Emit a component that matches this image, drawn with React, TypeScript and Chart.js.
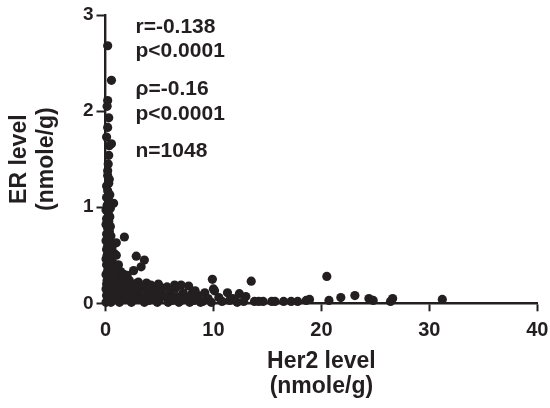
import React, { useEffect, useRef } from "react";
import { Chart, registerables } from "chart.js";

Chart.register(...registerables);

// Her2 level (nmole/g) for each sample point
const her2Level = [
  0.2, 0.55, 0.2, 0.15, 0.3, 0.2, 0.1, 0.35, 0.55, 0.3, 0.25, 0.2, 0.2, 0.35, 0.3, 0.1, 0.2, 0.4, 0.1, 0.3,
  0.75, 0.15, 0.45, 0.05, 0.25, 0.4, 0.1, 0.3, 0.05, 0.45, 0.2, 0.35, 0.1, 0.5, 0.25, 1.75, 0.05, 0.4, 1.0, 0.2,
  0.6, 0.1, 0.35, 0.8, 0.15, 0.5, 1.0, 2.85, 3.6, 3.3, 2.6, 0.05, 0.3, 0.7, 1.2, 0.1, 0.45, 0.9, 0.2, 1.4,
  0.6, 1.7, 0.05, 0.35, 1.1, 1.75, 0.8, 0.15, 2.2, 0.5, 1.4, 3.05, 2.9, 3.8, 0.1, 0.9, 1.9, 4.2, 2.5, 0.4,
  1.3, 3.3, 3.8, 5.2, 5.7, 6.5, 7.0, 7.7, 6.4, 0.05, 0.7, 1.8, 2.7, 4.5, 0.3, 1.1, 2.2, 3.0, 4.0, 5.0,
  6.0, 7.2, 8.6, 9.2, 10.0, 9.9, 10.1, 11.3, 12.4, 13.0, 13.5, 0.1, 0.6, 1.5, 2.5, 3.5, 4.6, 5.5, 6.6, 7.5,
  8.0, 9.5, 10.5, 11.8, 0.2, 1.0, 2.0, 3.0, 4.0, 5.0, 6.2, 7.0, 8.2, 9.0, 10.8, 11.5, 12.8, 0.05, 0.5, 1.3,
  2.4, 3.6, 4.8, 5.8, 6.8, 7.8, 8.8, 9.8, 12.2, 13.8, 14.6, 15.4, 15.7, 16.5, 17.8, 18.6, 18.9, 20.5, 20.7, 21.8,
  23.1, 24.4, 24.8, 26.4, 26.6, 31.2, 4.9, 6.1, 8.3, 2.0, 1.6, 0.7, 14.2, 17.2,
];

// ER level (nmole/g) for the same samples
const erLevel = [
  2.68, 2.32, 2.11, 2.05, 1.93, 1.83, 1.73, 1.64, 1.66, 1.54, 1.45, 1.38, 1.33, 1.29, 1.25, 1.22, 1.17, 1.13, 1.1, 1.07,
  1.04, 1.02, 0.99, 0.97, 0.94, 0.9, 0.88, 0.85, 0.82, 0.8, 0.78, 0.75, 0.72, 0.7, 0.68, 0.69, 0.65, 0.63, 0.63, 0.6,
  0.58, 0.56, 0.54, 0.52, 0.5, 0.48, 0.5, 0.49, 0.45, 0.38, 0.34, 0.46, 0.44, 0.42, 0.4, 0.4, 0.37, 0.35, 0.34, 0.33,
  0.31, 0.3, 0.3, 0.28, 0.27, 0.27, 0.25, 0.24, 0.24, 0.22, 0.22, 0.22, 0.21, 0.21, 0.2, 0.2, 0.19, 0.19, 0.18, 0.17,
  0.17, 0.17, 0.16, 0.16, 0.17, 0.16, 0.19, 0.18, 0.19, 0.15, 0.15, 0.14, 0.14, 0.14, 0.12, 0.12, 0.11, 0.12, 0.11, 0.12,
  0.1, 0.11, 0.08, 0.11, 0.15, 0.25, 0.13, 0.11, 0.1, 0.07, 0.23, 0.08, 0.08, 0.08, 0.08, 0.08, 0.07, 0.08, 0.07, 0.06,
  0.1, 0.05, 0.06, 0.05, 0.04, 0.04, 0.04, 0.04, 0.03, 0.04, 0.03, 0.03, 0.03, 0.02, 0.02, 0.03, 0.02, 0.01, 0.01, 0.01,
  0.01, 0.01, 0.01, 0.01, 0.01, 0.01, 0.01, 0.01, 0.01, 0.02, 0.02, 0.02, 0.02, 0.02, 0.02, 0.03, 0.04, 0.28, 0.03, 0.06,
  0.08, 0.05, 0.03, 0.02, 0.05, 0.04, 0.2, 0.14, 0.13, 0.29, 0.12, 0.28, 0.02, 0.02,
];

const xTitle = ["Her2 level", "(nmole/g)"];
const yTitle = ["ER level", "(nmole/g)"];
const statLines = ["r=-0.138", "p<0.0001", "\u03c1=-0.16", "p<0.0001", "n=1048"];

const INK = "#231f20";
const FAMILY = "'Liberation Sans', Arial, Helvetica, sans-serif";

export default function App() {
  const canvasRef = useRef<HTMLCanvasElement | null>(null);

  useEffect(() => {
    document.body.style.margin = "0";
    const canvas = canvasRef.current;
    if (!canvas) return;

    const points = her2Level.map((x, i) => ({ x, y: erLevel[i] }));

    const statsPlugin = {
      id: "stats",
      afterDraw(chart: any) {
        const { ctx, chartArea } = chart;
        const offsets = [18, 42, 80, 105, 142];
        ctx.save();
        ctx.font = `bold 21px ${FAMILY}`;
        ctx.fillStyle = INK;
        ctx.textAlign = "left";
        ctx.textBaseline = "alphabetic";
        statLines.forEach((t, i) => {
          ctx.fillText(t, chartArea.left + 30, chartArea.top + offsets[i]);
        });
        ctx.restore();
      },
    };

    const chart = new Chart(canvas, {
      type: "scatter",
      data: {
        datasets: [
          {
            data: points,
            backgroundColor: INK,
            borderColor: INK,
            borderWidth: 0,
            pointRadius: 4.6,
            pointHoverRadius: 4.6,
            clip: false,
          } as any,
        ],
      },
      options: {
        responsive: false,
        animation: false,
        devicePixelRatio: 1,
        layout: { padding: { top: 15, right: 12.7, left: 0, bottom: 0 } },
        plugins: {
          legend: { display: false },
          tooltip: { enabled: false },
        },
        scales: {
          x: {
            type: "linear",
            min: 0,
            max: 40,
            ticks: {
              stepSize: 10,
              color: INK,
              padding: 7,
              font: { family: FAMILY, size: 20, weight: "bold" },
            },
            grid: {
              drawOnChartArea: false,
              drawTicks: true,
              tickLength: 8,
              tickWidth: 2,
              tickColor: INK,
              color: INK,
            },
            border: { display: true, color: INK, width: 2.4 },
            title: {
              display: true,
              text: xTitle,
              color: INK,
              font: { family: FAMILY, size: 23, weight: "bold", lineHeight: 1.087 },
              padding: { top: 0, bottom: 8.5 },
            },
            afterFit(scale: any) {
              scale.height = 104.7;
              scale.paddingLeft = 0;
              scale.paddingRight = 0;
            },
          },
          y: {
            type: "linear",
            min: 0,
            max: 3,
            ticks: {
              stepSize: 1,
              color: INK,
              padding: 3,
              font: { family: FAMILY, size: 19, weight: "bold" },
            },
            grid: {
              drawOnChartArea: false,
              drawTicks: true,
              tickLength: 9,
              tickWidth: 2,
              tickColor: INK,
              color: INK,
            },
            border: { display: true, color: INK, width: 2.4 },
            title: {
              display: true,
              text: yTitle,
              color: INK,
              font: { family: FAMILY, size: 23, weight: "bold", lineHeight: 1.174 },
              padding: { top: 6.5, bottom: 0 },
            },
            afterFit(scale: any) {
              scale.width = 105.5;
              scale.paddingTop = 0;
              scale.paddingBottom = 0;
            },
          },
        },
      },
      plugins: [statsPlugin],
    } as any);

    return () => {
      chart.destroy();
    };
  }, []);

  return (
    <div style={{ width: 550, height: 408 }}>
      <canvas ref={canvasRef} width={550} height={408} />
    </div>
  );
}
